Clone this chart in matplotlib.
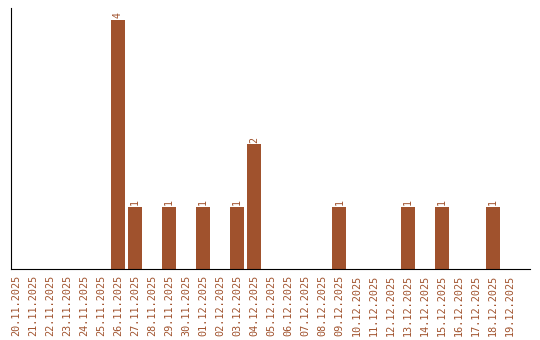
import matplotlib
matplotlib.use("Agg")
import matplotlib.pyplot as plt
import pandas as pd

dates = pd.date_range("2025-11-20", "2025-12-19", freq="D")
labels = [d.strftime("%d.%m.%Y") for d in dates]
counts = [0, 0, 0, 0, 0, 0, 4, 1, 0, 1, 0, 1, 0, 1, 2, 0, 0, 0, 0, 1,
          0, 0, 0, 1, 0, 1, 0, 0, 1, 0]

color = "#a0522d"
plt.rcParams["font.family"] = "DejaVu Sans Mono"

fig = plt.figure(figsize=(5.4, 3.4), dpi=100)
ax = fig.add_axes([0.0204, 0.209, 0.9606, 0.767])
x = range(len(labels))
bars = ax.bar(x, counts, width=0.82, color=color)
for xi, c in zip(x, counts):
    if c > 0:
        ax.text(xi, c + 0.03, str(c), rotation=90, ha="center", va="bottom",
                fontsize=7.2, color=color)

ax.set_xlim(-0.28, 30.17)
ax.set_ylim(0, 4.19)
ax.set_xticks(list(x))
ax.set_xticklabels(labels, rotation=90, fontsize=7.3, color=color)
ax.tick_params(axis="x", length=0, pad=4)
ax.set_yticks([])
ax.spines["top"].set_visible(False)
ax.spines["right"].set_visible(False)

fig.savefig("out.png", dpi=100)
